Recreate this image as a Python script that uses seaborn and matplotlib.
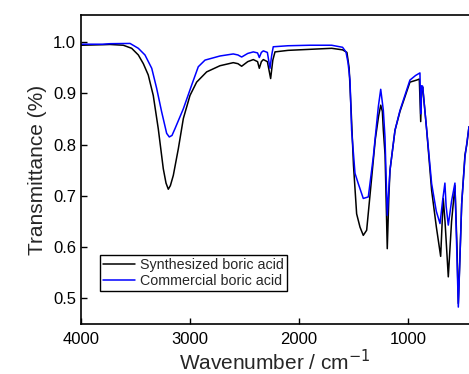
import matplotlib
matplotlib.use("Agg")
import matplotlib.pyplot as plt
import seaborn as sns
import pandas as pd

# FTIR spectra (wavenumber in cm^-1, transmittance)
synth_wn = [4000, 3800, 3734, 3612, 3535, 3474, 3428, 3383, 3337, 3291, 3245, 3220, 3199,
            3180, 3153, 3107, 3061, 3000, 2939, 2847, 2725, 2603, 2560, 2526, 2470, 2419,
            2380, 2364, 2345, 2327, 2290, 2260, 2240, 2220, 2100, 1900, 1700, 1600, 1560,
            1540, 1520, 1500, 1471, 1440, 1410, 1379, 1340, 1300, 1270, 1250, 1235,
            1226, 1210, 1190, 1175, 1165, 1119, 1073, 982, 920, 896, 883, 875, 865,
            828, 783, 740, 700, 688, 676, 660, 630, 600, 569, 550, 538, 520, 507,
            477, 460, 440]
synth_t = [0.994, 0.995, 0.9955, 0.994, 0.988, 0.975, 0.958, 0.936, 0.896, 0.831, 0.753, 0.725, 0.713,
           0.720, 0.740, 0.792, 0.851, 0.896, 0.922, 0.942, 0.954, 0.960, 0.958, 0.953, 0.962, 0.966,
           0.962, 0.949, 0.962, 0.966, 0.962, 0.929, 0.965, 0.981, 0.984, 0.986, 0.988, 0.985, 0.980,
           0.950, 0.860, 0.760, 0.665, 0.639, 0.623, 0.633, 0.720, 0.810, 0.855, 0.877, 0.865,
           0.828, 0.780, 0.597, 0.700, 0.750, 0.828, 0.865, 0.922, 0.926, 0.928, 0.845, 0.905, 0.912,
           0.828, 0.711, 0.640, 0.582, 0.640, 0.695, 0.650, 0.542, 0.650, 0.720, 0.600, 0.490, 0.600, 0.685,
           0.780, 0.800, 0.835]

comm_wn = [4000, 3800, 3734, 3550, 3474, 3413, 3351, 3306, 3260, 3214, 3190, 3165, 3138,
           3061, 2985, 2924, 2862, 2725, 2603, 2560, 2526, 2470, 2419, 2380,
           2364, 2345, 2327, 2290, 2266, 2250, 2236, 2100, 1900, 1700, 1600, 1569,
           1550, 1532, 1517, 1486, 1456, 1410, 1364, 1318, 1272, 1250, 1226, 1211,
           1190, 1165, 1119, 1073, 982, 930, 890, 883, 875, 865, 828, 783, 740,
           706, 682, 661, 650, 630, 600, 569, 538, 507, 477, 440]
comm_t = [0.996, 0.996, 0.997, 0.9975, 0.988, 0.975, 0.949, 0.910, 0.864, 0.822, 0.815, 0.818, 0.831,
          0.870, 0.916, 0.952, 0.965, 0.973, 0.977, 0.975, 0.971, 0.978, 0.981, 0.979,
          0.970, 0.980, 0.983, 0.980, 0.949, 0.975, 0.991, 0.993, 0.994, 0.994, 0.990, 0.981,
          0.960, 0.926, 0.828, 0.744, 0.724, 0.695, 0.698, 0.776, 0.874, 0.908, 0.867, 0.815,
          0.662, 0.750, 0.828, 0.867, 0.926, 0.935, 0.940, 0.860, 0.915, 0.914, 0.828, 0.724, 0.670,
          0.646, 0.691, 0.725, 0.680, 0.643, 0.690, 0.725, 0.483, 0.685, 0.776, 0.835]

labels = ["Synthesized boric acid", "Commercial boric acid"]
x_ticks = [4000, 3000, 2000, 1000]
y_ticks = [0.5, 0.6, 0.7, 0.8, 0.9, 1.0]

df = pd.concat([
    pd.DataFrame({"wn": synth_wn, "T": synth_t, "sample": labels[0]}),
    pd.DataFrame({"wn": comm_wn, "T": comm_t, "sample": labels[1]}),
])

sns.set_style("ticks")
plt.rcParams["font.family"] = ["Liberation Sans", "DejaVu Sans"]

fig = plt.figure(figsize=(4.69, 3.74), dpi=100)
ax = fig.add_axes([81 / 469, 50 / 374, 1 - 81 / 469, 309 / 374])

sns.lineplot(data=df, x="wn", y="T", hue="sample", palette=["black", "#0000ff"],
             linewidth=1.1, ax=ax, estimator=None)

ax.set_xlim(4000, 440)
ax.set_ylim(0.45, 1.053)
ax.set_xticks(x_ticks)
ax.set_yticks(y_ticks)
ax.set_yticklabels([f"{v:.1f}" for v in y_ticks])
ax.tick_params(direction="in", length=4, width=1, labelsize=12, colors="black")
ax.tick_params(axis="x", pad=6)
for side in ["left", "bottom", "top"]:
    ax.spines[side].set_linewidth(1.2)
    ax.spines[side].set_color("black")
ax.spines["right"].set_visible(False)

ax.set_xlabel("Wavenumber / cm$^{-1}$", fontsize=15, labelpad=1)
ax.set_ylabel("Transmittance (%)", fontsize=15, labelpad=4)

leg = ax.legend(loc="lower left", bbox_to_anchor=(0.05, 0.108), borderaxespad=0,
                fontsize=10.3, frameon=True, fancybox=False, edgecolor="black",
                framealpha=1, handlelength=2.2, handletextpad=0.37, borderpad=0.2,
                labelspacing=0.15, title=None)
leg.get_frame().set_linewidth(1.0)

fig.savefig("out.png", dpi=100)
